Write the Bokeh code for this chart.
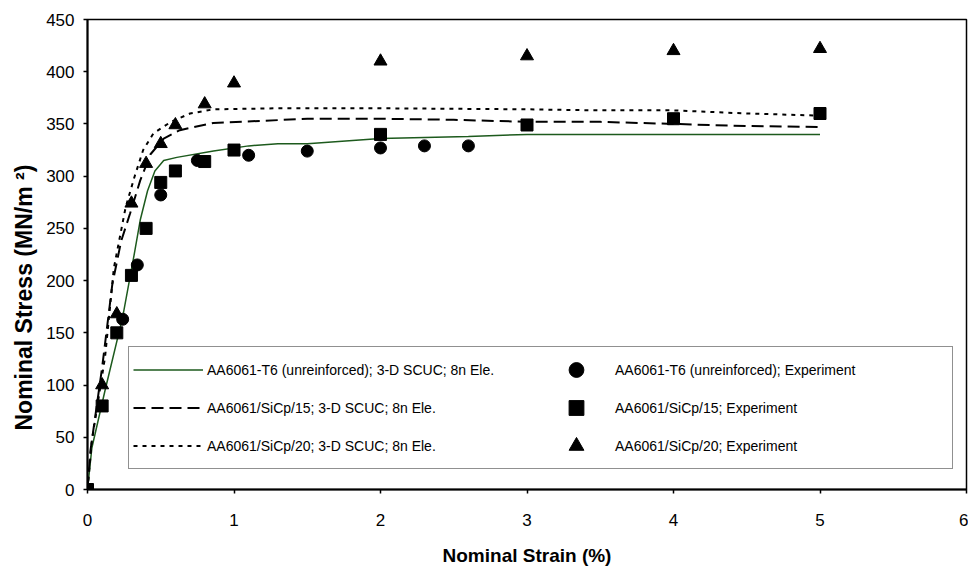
from bokeh.plotting import figure
from bokeh.models import Legend, LegendItem, FixedTicker, Title
from bokeh.embed import file_html
from bokeh.resources import INLINE

# ---- model curves (3-D SCUC; 8n Ele.) ----
sim_t6_x = [0, 0.03, 0.12, 0.24, 0.32, 0.36, 0.41, 0.46, 0.52, 0.61, 0.86, 1.1, 1.3, 1.5, 2.0, 2.3, 2.6, 3.0, 4.0, 5.0]
sim_t6_y = [0, 40, 95, 165, 226, 258, 286, 305, 315, 318, 324, 329, 331, 331, 336, 337, 338, 340, 340, 340]

sim_15_x = [0, 0.02, 0.1, 0.17, 0.23, 0.29, 0.36, 0.43, 0.52, 0.63, 0.86, 1.2, 1.5, 2.0, 2.5, 3.0, 3.5, 4.0, 4.5, 5.0]
sim_15_y = [0, 37, 117, 197, 238, 264, 296, 321, 336, 344, 351, 353, 355, 355, 354, 352, 352, 350, 348, 347]

sim_20_x = [0, 0.03, 0.12, 0.18, 0.26, 0.32, 0.38, 0.45, 0.57, 0.7, 0.86, 1.3, 2.0, 3.0, 3.5, 4.0, 4.5, 5.0]
sim_20_y = [0, 47, 127, 212, 270, 299, 325, 341, 352, 360, 364, 365, 365, 364, 363, 363, 360, 358]

# ---- experiments ----
exp_t6_x = [0, 0.24, 0.34, 0.5, 0.75, 1.1, 1.5, 2.0, 2.3, 2.6]
exp_t6_y = [0, 163, 215, 282, 315, 320, 324, 327, 329, 329]
exp_15_x = [0, 0.1, 0.2, 0.3, 0.4, 0.5, 0.6, 0.8, 1.0, 2.0, 3.0, 4.0, 5.0]
exp_15_y = [0, 80, 150, 205, 250, 294, 305, 314, 325, 340, 349, 355, 360]
exp_20_x = [0, 0.1, 0.2, 0.3, 0.4, 0.5, 0.6, 0.8, 1.0, 2.0, 3.0, 4.0, 5.0]
exp_20_y = [0, 100, 168, 274, 312, 331, 349, 369, 389, 410, 415, 420, 422]

x_ticks = [0, 1, 2, 3, 4, 5, 6]
y_ticks = [0, 50, 100, 150, 200, 250, 300, 350, 400, 450]

labels = [
    "AA6061-T6 (unreinforced); 3-D SCUC; 8n Ele.",
    "AA6061/SiCp/15; 3-D SCUC; 8n Ele.",
    "AA6061/SiCp/20; 3-D SCUC; 8n Ele.",
    "AA6061-T6 (unreinforced); Experiment",
    "AA6061/SiCp/15; Experiment",
    "AA6061/SiCp/20; Experiment",
]
x_title = "Nominal Strain (%)"
y_title = "Nominal Stress (MN/m \u00b2)"

FONT = "Liberation Sans"

p = figure(width=968, height=571, x_range=(0, 6), y_range=(0, 450),
           output_backend="svg", toolbar_location=None,
           min_border_left=87, min_border_right=2, min_border_top=19, min_border_bottom=82)
p.xgrid.visible = False
p.ygrid.visible = False
p.outline_line_color = "black"
p.outline_line_width = 1.5
p.background_fill_color = "white"
p.border_fill_color = "white"

r1 = p.line(sim_t6_x, sim_t6_y, line_color="#1d5a1d", line_width=1.5)
r2 = p.line(sim_15_x, sim_15_y, line_color="black", line_width=2, line_dash="12 6")
r3 = p.line(sim_20_x, sim_20_y, line_color="black", line_width=2, line_dash="4 5")
r4 = p.scatter(exp_t6_x, exp_t6_y, marker="circle", size=12, fill_color="black", line_color="black")
r5 = p.scatter(exp_15_x, exp_15_y, marker="square", size=12, fill_color="black", line_color="black")
r6 = p.scatter(exp_20_x, exp_20_y, marker="triangle", size=13, fill_color="black", line_color="black")

for ax in (p.xaxis[0], p.yaxis[0]):
    ax.axis_line_width = 2
    ax.axis_line_color = "black"
    ax.major_tick_line_color = "black"
    ax.major_tick_line_width = 1.5
    ax.major_tick_in = 0
    ax.major_tick_out = 4
    ax.minor_tick_line_color = None
    ax.major_label_text_font = FONT
    ax.major_label_text_font_size = "17px"
    ax.major_label_text_color = "black"
    ax.axis_label_text_font = FONT
    ax.axis_label_text_font_style = "bold"
    ax.axis_label_text_font_size = "19px"
    ax.axis_label_text_color = "black"

p.xaxis.ticker = FixedTicker(ticks=x_ticks)
p.yaxis.ticker = FixedTicker(ticks=y_ticks)
p.xaxis.axis_label = x_title
p.xaxis.major_label_standoff = 20
p.xaxis.axis_label_standoff = 16
p.yaxis.major_label_standoff = 9

ytitle = Title(text=y_title, align="left", offset=59, standoff=14,
               text_font=FONT, text_font_style="bold", text_font_size="23px", text_color="black")
p.add_layout(ytitle, "left")

legend = Legend(items=[
    LegendItem(label=labels[0], renderers=[r1]),
    LegendItem(label=labels[1], renderers=[r2]),
    LegendItem(label=labels[2], renderers=[r3]),
    LegendItem(label=labels[3], renderers=[r4]),
    LegendItem(label=labels[4], renderers=[r5]),
    LegendItem(label=labels[5], renderers=[r6]),
], location=(41, 20), orientation="vertical", ncols=2)
legend.margin = 0
legend.padding = 4
legend.spacing = 1
legend.label_height = 37
legend.glyph_height = 37
legend.glyph_width = 70
legend.label_standoff = 4
legend.label_width = 333
legend.label_text_font = FONT
legend.label_text_font_size = "14px"
legend.label_text_color = "black"
legend.border_line_color = "#222222"
legend.border_line_width = 1.5
legend.background_fill_alpha = 1
p.add_layout(legend)

open("out.html", "w").write(file_html(p, INLINE))
